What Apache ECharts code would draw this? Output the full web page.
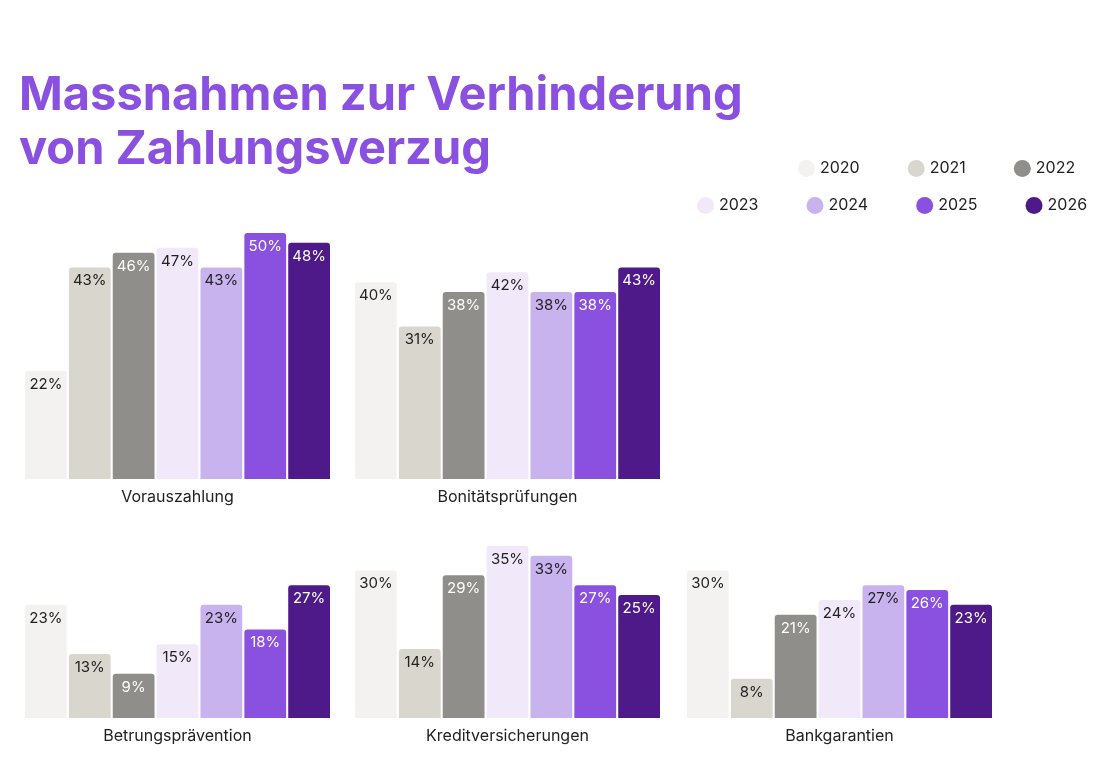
<!DOCTYPE html>
<html><head><meta charset="utf-8">
<script src="https://cdn.jsdelivr.net/npm/echarts@6/dist/echarts.min.js"></script>
<style>html,body{margin:0;padding:0;background:#fff}#c{width:1110px;height:760px}</style>
</head><body><div id="c"></div>
<script>
const years = ['2020','2021','2022','2023','2024','2025','2026'];
const categories = ['Vorauszahlung','Bonitätsprüfungen','Betrungsprävention','Kreditversicherungen','Bankgarantien'];
const vorauszahlung = [22,43,46,47,43,50,48];
const bonitaet = [40,31,38,42,38,38,43];
const betrug = [23,13,9,15,23,18,27];
const kredit = [30,14,29,35,33,27,25];
const bank = [30,8,21,24,27,26,23];
const values = [vorauszahlung,bonitaet,betrug,kredit,bank];
const colors = ['#f3f2f0','#d9d6ce','#8f8e8a','#f1e9f9','#c9b3ef','#8a50e0','#4e1a8a'];
const labelColors = ['#222','#222','#fff','#222','#222','#fff','#fff'];
const panels = [[25,233],[355,233],[25,472],[355,472],[687,472]];
const grids = panels.map(p=>({left:p[0],top:p[1],width:305,height:246}));
const xAxes = categories.map((c,i)=>({type:'category',gridIndex:i,data:[c],axisLine:{show:false},axisTick:{show:false},
  axisLabel:{color:'#222',fontSize:16,fontFamily:'Inter',margin:10}}));
const yAxes = categories.map((c,i)=>({type:'value',gridIndex:i,min:0,max:50,show:false}));
const series=[];
values.forEach((vals,i)=>{
  years.forEach((y,j)=>{
    series.push({type:'bar',name:y,xAxisIndex:i,yAxisIndex:i,data:[vals[j]],barGap:'5%',barCategoryGap:'0%',
      itemStyle:{color:colors[j],borderRadius:[3,3,0,0]},
      label:{show:true,position:'insideTop',distance:6,formatter:'{c}%',color:labelColors[j],fontSize:15,fontFamily:'Inter'}});
  });
});
const legendBase={icon:'circle',itemWidth:17,itemHeight:17,itemGap:48,textStyle:{fontSize:16,color:'#222',fontFamily:'Inter'}};
const chart=echarts.init(document.getElementById('c'));
chart.setOption({
  animation:false,
  title:{text:'Massnahmen zur Verhinderung\nvon Zahlungsverzug',left:14,top:64,
    textStyle:{color:'#8a50e0',fontSize:47,fontWeight:'bold',fontFamily:'Inter',lineHeight:54}},
  legend:[
    Object.assign({},legendBase,{data:['2020','2021','2022'],left:793,top:155}),
    Object.assign({},legendBase,{data:['2023','2024','2025','2026'],left:692,top:192})
  ],
  grid:grids,xAxis:xAxes,yAxis:yAxes,series:series
});
</script></body></html>
